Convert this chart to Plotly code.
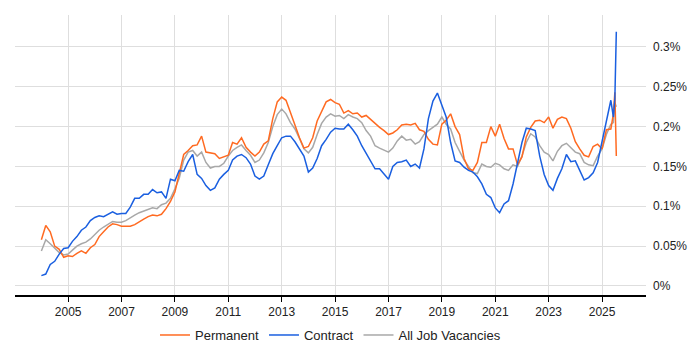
import plotly.graph_objects as go

# Dates: every two months (Jan, Mar, May, Jul, Sep, Nov) 2004-2024, then 2025 detail
years = list(range(2004, 2025))
months = ["01", "03", "05", "07", "09", "11"]
dates = [f"{y}-{m}-01" for y in years for m in months]
dates += ["2025-01-01", "2025-03-01", "2025-05-01", "2025-06-05", "2025-06-25", "2025-07-15"]

# Values in percent of all job vacancies (one row per year)
permanent = [
    0.058, 0.076, 0.068, 0.050, 0.046, 0.036,  # 2004
    0.038, 0.037, 0.041, 0.044, 0.041, 0.048,  # 2005
    0.052, 0.062, 0.068, 0.074, 0.078, 0.077,  # 2006
    0.075, 0.075, 0.075, 0.077, 0.081, 0.084,  # 2007
    0.087, 0.089, 0.088, 0.090, 0.097, 0.106,  # 2008
    0.118, 0.140, 0.165, 0.170, 0.176, 0.177,  # 2009
    0.188, 0.168, 0.167, 0.166, 0.160, 0.162,  # 2010
    0.164, 0.180, 0.178, 0.186, 0.174, 0.168,  # 2011
    0.163, 0.168, 0.178, 0.182, 0.210, 0.231,  # 2012
    0.237, 0.233, 0.216, 0.202, 0.186, 0.173,  # 2013
    0.175, 0.186, 0.207, 0.219, 0.231, 0.234,  # 2014
    0.230, 0.228, 0.217, 0.220, 0.216, 0.217,  # 2015
    0.212, 0.214, 0.209, 0.203, 0.199, 0.195,  # 2016
    0.190, 0.192, 0.196, 0.202, 0.203, 0.202,  # 2017
    0.204, 0.196, 0.194, 0.184, 0.178, 0.177,  # 2018
    0.203, 0.208, 0.216, 0.200, 0.190, 0.160,  # 2019
    0.147, 0.145, 0.155, 0.180, 0.180, 0.200,  # 2020
    0.188, 0.203, 0.185, 0.172, 0.172, 0.152,  # 2021
    0.162, 0.187, 0.199, 0.207, 0.208, 0.205,  # 2022
    0.212, 0.198, 0.209, 0.212, 0.210, 0.198,  # 2023
    0.181, 0.172, 0.164, 0.162, 0.175, 0.178,  # 2024
    0.172, 0.196, 0.197, 0.216, 0.243, 0.163,  # 2025
]

contract = [
    0.013, 0.015, 0.027, 0.031, 0.040, 0.047,  # 2004
    0.048, 0.056, 0.062, 0.070, 0.074, 0.082,  # 2005
    0.086, 0.088, 0.087, 0.090, 0.093, 0.090,  # 2006
    0.091, 0.091, 0.099, 0.110, 0.110, 0.115,  # 2007
    0.115, 0.121, 0.117, 0.118, 0.110, 0.134,  # 2008
    0.132, 0.145, 0.144, 0.156, 0.165, 0.140,  # 2009
    0.135, 0.126, 0.120, 0.123, 0.134, 0.140,  # 2010
    0.145, 0.158, 0.163, 0.165, 0.161, 0.153,  # 2011
    0.138, 0.134, 0.138, 0.152, 0.166, 0.176,  # 2012
    0.186, 0.188, 0.188, 0.181, 0.172, 0.163,  # 2013
    0.143, 0.148, 0.160, 0.176, 0.184, 0.193,  # 2014
    0.198, 0.197, 0.197, 0.203, 0.196, 0.188,  # 2015
    0.176, 0.166, 0.157, 0.147, 0.147, 0.140,  # 2016
    0.134, 0.150, 0.155, 0.156, 0.158, 0.150,  # 2017
    0.153, 0.148, 0.172, 0.210, 0.232, 0.242,  # 2018
    0.228, 0.212, 0.180, 0.157, 0.155, 0.149,  # 2019
    0.145, 0.143, 0.137, 0.128, 0.115, 0.111,  # 2020
    0.098, 0.092, 0.103, 0.107, 0.128, 0.152,  # 2021
    0.180, 0.198, 0.197, 0.195, 0.163, 0.140,  # 2022
    0.126, 0.120, 0.135, 0.147, 0.165, 0.156,  # 2023
    0.157, 0.145, 0.133, 0.136, 0.142, 0.155,  # 2024
    0.182, 0.205, 0.233, 0.212, 0.235, 0.319,  # 2025
]

all_jobs = [
    0.044, 0.058, 0.053, 0.048, 0.042, 0.039,  # 2004
    0.040, 0.045, 0.050, 0.053, 0.055, 0.059,  # 2005
    0.065, 0.070, 0.074, 0.078, 0.081, 0.080,  # 2006
    0.080, 0.082, 0.086, 0.089, 0.092, 0.094,  # 2007
    0.097, 0.098, 0.097, 0.102, 0.104, 0.110,  # 2008
    0.122, 0.135, 0.158, 0.168, 0.170, 0.163,  # 2009
    0.168, 0.155, 0.148, 0.150, 0.150, 0.154,  # 2010
    0.163, 0.170, 0.174, 0.177, 0.170, 0.164,  # 2011
    0.155, 0.158, 0.167, 0.180, 0.200, 0.215,  # 2012
    0.222, 0.216, 0.205, 0.197, 0.185, 0.172,  # 2013
    0.167, 0.174, 0.190, 0.204, 0.212, 0.216,  # 2014
    0.213, 0.214, 0.210, 0.215, 0.212, 0.210,  # 2015
    0.205, 0.195, 0.188, 0.176, 0.173, 0.170,  # 2016
    0.168, 0.173, 0.182, 0.188, 0.183, 0.184,  # 2017
    0.178, 0.181, 0.190, 0.195, 0.199, 0.203,  # 2018
    0.212, 0.203, 0.197, 0.180, 0.169, 0.158,  # 2019
    0.150, 0.142, 0.141, 0.153, 0.150, 0.149,  # 2020
    0.154, 0.152, 0.147, 0.145, 0.152, 0.150,  # 2021
    0.163, 0.180, 0.191, 0.187, 0.176, 0.168,  # 2022
    0.165, 0.157, 0.169, 0.176, 0.179, 0.174,  # 2023
    0.168, 0.166, 0.155, 0.152, 0.151, 0.163,  # 2024
    0.172, 0.190, 0.203, 0.205, 0.230, 0.225,  # 2025
]

year_ticks = ["2005", "2007", "2009", "2011", "2013", "2015", "2017",
              "2019", "2021", "2023", "2025"]
y_ticks = [0, 0.05, 0.1, 0.15, 0.2, 0.25, 0.3]
y_tick_labels = ["0%", "0.05%", "0.1%", "0.15%", "0.2%", "0.25%", "0.3%"]

fig = go.Figure()
fig.add_trace(go.Scatter(x=dates, y=all_jobs, name="All Job Vacancies", mode="lines",
                         line=dict(color="#A8A8A8", width=1.5), legendrank=3))
fig.add_trace(go.Scatter(x=dates, y=permanent, name="Permanent", mode="lines",
                         line=dict(color="#FF6A21", width=1.5), legendrank=1))
fig.add_trace(go.Scatter(x=dates, y=contract, name="Contract", mode="lines",
                         line=dict(color="#1A5FE0", width=1.5), legendrank=2))

fig.update_layout(
    width=700, height=350,
    margin=dict(l=7, r=62, t=7, b=63, autoexpand=False),
    paper_bgcolor="white", plot_bgcolor="white",
    font=dict(family="Liberation Sans, Arial, sans-serif", size=12, color="#222"),
    showlegend=True,
    legend=dict(orientation="h", x=0.5, xanchor="center", y=-0.143, yanchor="middle",
                font=dict(size=13, color="#222"), itemwidth=30,
                traceorder="normal"),
    hovermode=False,
)
fig.update_xaxes(
    type="date",
    range=["2003-01-05", "2026-08-25"],
    tickvals=[y + "-01-01" for y in year_ticks],
    ticktext=year_ticks,
    showgrid=True, gridcolor="#dedede", gridwidth=1,
    showline=True, linecolor="black", linewidth=1.5,
    ticks="outside", ticklen=5, tickcolor="black",
    zeroline=False, automargin=False,
)
fig.update_yaxes(
    range=[-0.0113, 0.340],
    side="right",
    tickvals=y_ticks, ticktext=y_tick_labels,
    showgrid=True, gridcolor="#dedede", gridwidth=1,
    showline=False, zeroline=False,
    ticks="", ticklabelstandoff=6, automargin=False,
)

fig.write_html("out.html")
